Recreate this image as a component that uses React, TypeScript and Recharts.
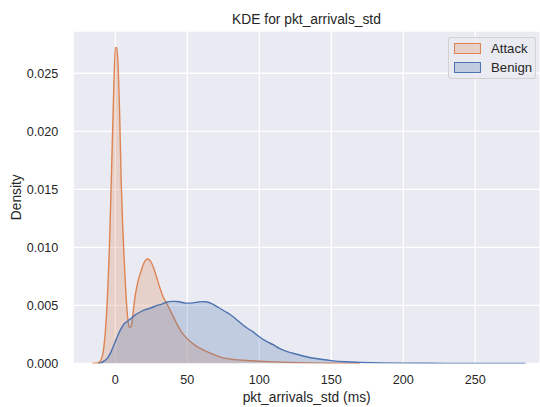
import { ComposedChart, Area, XAxis, YAxis, CartesianGrid, Legend } from "recharts";

// Attack KDE
const attackX = [-16, -12, -10, -8, -6, -4, -2, -1, 0, 1, 2, 3, 4, 5, 6, 7, 8, 9, 10, 11, 12, 13, 14, 16, 18, 20, 22.5, 25, 27, 29, 31, 33, 36, 38, 40, 42, 45, 48, 52, 55, 59, 64, 68, 75, 83, 91, 100, 107, 120, 135, 150, 170];
const attackY = [0, 0.00005, 0.0003, 0.0014, 0.0045, 0.0105, 0.0195, 0.024, 0.0272, 0.0272, 0.0255, 0.0215, 0.016, 0.0122, 0.0093, 0.0068, 0.0048, 0.0035, 0.0031, 0.0032, 0.004, 0.0051, 0.006, 0.0072, 0.008, 0.0087, 0.009, 0.0087, 0.0081, 0.0073, 0.0065, 0.0058, 0.0051, 0.0046, 0.0041, 0.0036, 0.0029, 0.0024, 0.0019, 0.0016, 0.0013, 0.001, 0.00078, 0.00048, 0.00033, 0.00026, 0.0002, 0.00016, 0.0001, 0.00005, 0.00002, 0];

// Benign KDE
const benignX = [-12, -10, -8, -6, -5, -3, -1, 0, 2, 4, 6, 8, 10, 13, 16, 20, 25, 29, 32, 36, 39, 42, 45, 49, 54, 58, 61, 64, 68, 72, 76, 80, 85, 91, 96, 100, 105, 110, 114, 120, 126, 132, 138, 144, 150, 160, 170, 185, 200, 230, 260, 285];
const benignY = [0, 0.00005, 0.0002, 0.0004, 0.00055, 0.001, 0.0016, 0.0019, 0.0025, 0.003, 0.0034, 0.0036, 0.0038, 0.0041, 0.00435, 0.0046, 0.0048, 0.005, 0.0051, 0.0053, 0.00535, 0.00535, 0.0053, 0.0052, 0.00522, 0.0053, 0.00533, 0.0053, 0.0051, 0.0048, 0.0045, 0.0042, 0.0037, 0.0031, 0.0027, 0.0023, 0.0019, 0.0016, 0.0013, 0.001, 0.0008, 0.0006, 0.00045, 0.00034, 0.00025, 0.00015, 0.0001, 0.00005, 0.00003, 0.00001, 0.000005, 0];

const seriesNames = ["Attack", "Benign"];
const seriesColors = ["#DD8452", "#4C72B0"];
const xTicks = [0, 50, 100, 150, 200, 250];
const yTicks = [0, 0.005, 0.01, 0.015, 0.02, 0.025];

const attackData = attackX.map((x, i) => ({ x, y: attackY[i] }));
const benignData = benignX.map((x, i) => ({ x, y: benignY[i] }));

const FONT = '"Liberation Sans", Arial, sans-serif';
const INK = "#262626";

function KdeLegend() {
  return (
    <div
      style={{
        width: 88, height: 42, boxSizing: "border-box",
        border: "1px solid rgba(204,204,204,0.8)", borderRadius: 3,
        background: "rgba(234,234,242,0.85)", padding: "1px 0 0 5px",
        fontFamily: FONT, fontSize: 13.2, color: INK,
      }}
    >
      {seriesNames.map((name, i) => (
        <div key={name} style={{ display: "flex", alignItems: "center", height: 19 }}>
          <span
            style={{
              display: "inline-block", width: 25, height: 9,
              border: `1px solid ${seriesColors[i]}`,
              background: seriesColors[i] + "40", marginRight: 10,
            }}
          />
          {name}
        </div>
      ))}
    </div>
  );
}

export default function App() {
  return (
    <div style={{ position: "absolute", left: 0, top: 0, width: 540, height: 407, background: "#fff" }}>
      <div
        style={{
          position: "absolute", left: 73, width: 467, top: 11.5, textAlign: "center",
          fontFamily: FONT, fontSize: 13.8, color: INK, lineHeight: "16px",
        }}
      >
        KDE for pkt_arrivals_std
      </div>
      <ComposedChart width={540} height={407} margin={{ top: 31, right: 0, bottom: 0, left: 0 }}>
        <CartesianGrid fill="#EAEAF2" stroke="#ffffff" strokeWidth={1.3} />
        <XAxis
          type="number" dataKey="x" domain={[-29.2, 295]} ticks={xTicks}
          allowDataOverflow height={43.5} axisLine={false} tickLine={false}
          tickSize={0} tickMargin={11.5}
          tick={{ fill: INK, fontSize: 12.6, fontFamily: FONT }}
          label={{ value: "pkt_arrivals_std (ms)", position: "insideBottom", offset: 5, fill: INK, fontSize: 13.8, fontFamily: FONT }}
        />
        <YAxis
          type="number" domain={[0, 0.02864]} ticks={yTicks} allowDataOverflow
          width={73.3} axisLine={false} tickLine={false} tickSize={0} tickMargin={15}
          tickFormatter={(v: number) => v.toFixed(3)}
          tick={{ fill: INK, fontSize: 12.6, fontFamily: FONT }}
          label={{ value: "Density", angle: -90, position: "center", dx: -21, fill: INK, fontSize: 13.8, fontFamily: FONT }}
        />
        <Area
          data={attackData} dataKey="y" name="Attack" type="monotone"
          stroke={seriesColors[0]} strokeWidth={1.4} fill={seriesColors[0]} fillOpacity={0.25}
          isAnimationActive={false} dot={false} activeDot={false}
        />
        <Area
          data={benignData} dataKey="y" name="Benign" type="monotone"
          stroke={seriesColors[1]} strokeWidth={1.4} fill={seriesColors[1]} fillOpacity={0.25}
          isAnimationActive={false} dot={false} activeDot={false}
        />
        <Legend
          layout="horizontal" verticalAlign="middle" align="center"
          content={() => <KdeLegend />}
          wrapperStyle={{ position: "absolute", left: 448, top: 37, width: 88, height: 42 }}
        />
      </ComposedChart>
    </div>
  );
}
